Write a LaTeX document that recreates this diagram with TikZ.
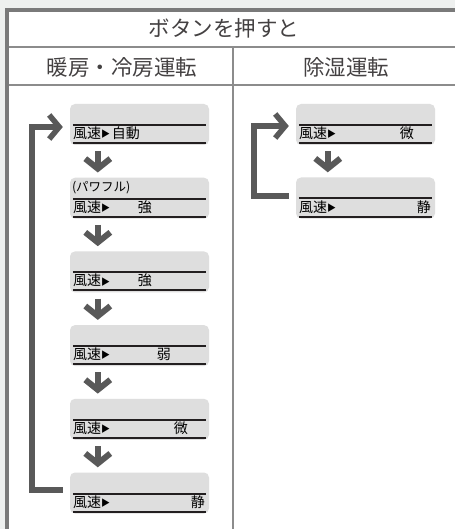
\documentclass[tikz,border=0pt]{standalone}
\usepackage{fontspec}
\newfontfamily\jp{Noto Sans CJK JP}
\usetikzlibrary{arrows.meta,positioning}

\definecolor{outergray}{HTML}{EEF0EF}
\definecolor{bordergray}{HTML}{7A7A7A}
\definecolor{tableline}{HTML}{8C8C8C}
\definecolor{panelgray}{HTML}{DEDEDE}
\definecolor{ink}{HTML}{231F20}
\definecolor{arrowgray}{HTML}{595959}

\begin{document}
\begin{tikzpicture}[x=1pt, y=-1pt,
  heading/.style = {font=\jp\fontsize{21.5}{24}\selectfont, text=ink!85, inner sep=0pt},
  grid/.style    = {draw=tableline, line width=2pt},
  panel/.style   = {fill=panelgray, rounded corners=5pt, inner sep=0pt,
                    minimum width=139pt, minimum height=41pt},
  rule/.style    = {draw=ink, line width=2pt},
  speed/.style   = {font=\jp\fontsize{14}{16}\selectfont, anchor=base west, inner sep=0pt},
  level/.style   = {font=\jp\fontsize{14}{16}\selectfont, anchor=base, inner sep=0pt},
  mode/.style    = {font=\jp\fontsize{12.5}{14}\selectfont, anchor=west, inner sep=0pt},
  next/.style    = {draw=arrowgray, line width=6pt,
                    -{Straight Barb[length=10pt,width=25pt]}},
  back/.style    = {draw=arrowgray, line width=5.5pt,
                    -{Straight Barb[length=10pt,width=24pt]}},
]
  \useasboundingbox (0,0) rectangle (455,529);

  % table
  \fill[outergray] (0,0) rectangle (455,529);
  \fill[white] (7,10) rectangle (455,529);
  \draw[grid] (9,47.5) -- (455,47.5);
  \draw[grid] (9,85) -- (455,85);
  \draw[grid] (233,47.5) -- (233,529);
  \draw[draw=bordergray, line width=4pt] (7,529) -- (7,10) -- (455,10);

  \node[heading] (title) at (224,28) {ボタンを押すと};
  \node[heading] (heatcool) at (122,67) {暖房・冷房運転};
  \node[heading] (dry) at (346,67) {除湿運転};

  % heating / cooling
  \foreach \i/\yc/\val/\dx in {1/124.5/自動/56, 2/198.2/強/75, 3/271.9/強/75,
                               4/345.6/弱/94, 5/419.3/微/111, 6/493/静/128} {
    \node[panel] (h\i) at (139.5,\yc) {};
    \draw[rule] ([shift={(3,0.5)}]h\i.west) -- ([shift={(-3,0.5)}]h\i.east);
    \draw[rule] ([shift={(3,18.5)}]h\i.west) -- ([shift={(-3,18.5)}]h\i.east);
    \node[speed] at ([shift={(3,14)}]h\i.west) {風速\raisebox{0.8pt}{\fontsize{9}{9}\selectfont ▶}};
    \node[level] at ([shift={(\dx,14)}]h\i.west) {\val};
  }
  \node[mode] (power) at ([shift={(2,-11)}]h2.west) {(パワフル)};

  \foreach \a/\b in {h1/h2, h2/h3, h3/h4, h4/h5, h5/h6}
    \draw[next] ([shift={(28,6)}]\a.south west) -- ([shift={(28,-5)}]\b.north west);
  \draw[back, shorten <=7pt, shorten >=7pt]
    ([yshift=3pt]h6.west) -- ++(-38,0) |- ([yshift=-2.5pt]h1.west);

  % dehumidify
  \foreach \i/\yc/\val/\dx in {1/124.5/微/111, 2/198/静/128} {
    \node[panel] (d\i) at (365.5,\yc) {};
    \draw[rule] ([shift={(3,0.5)}]d\i.west) -- ([shift={(-3,0.5)}]d\i.east);
    \draw[rule] ([shift={(3,18.5)}]d\i.west) -- ([shift={(-3,18.5)}]d\i.east);
    \node[speed] at ([shift={(3,14)}]d\i.west) {風速\raisebox{0.8pt}{\fontsize{9}{9}\selectfont ▶}};
    \node[level] at ([shift={(\dx,14)}]d\i.west) {\val};
  }
  \draw[next] ([shift={(32,6)}]d1.south west) -- ([shift={(32,-5)}]d2.north west);
  \draw[back, shorten <=7pt, shorten >=7pt]
    ([yshift=2pt]d2.west) -- ++(-42,0) |- ([yshift=-1.5pt]d1.west);
\end{tikzpicture}
\end{document}
